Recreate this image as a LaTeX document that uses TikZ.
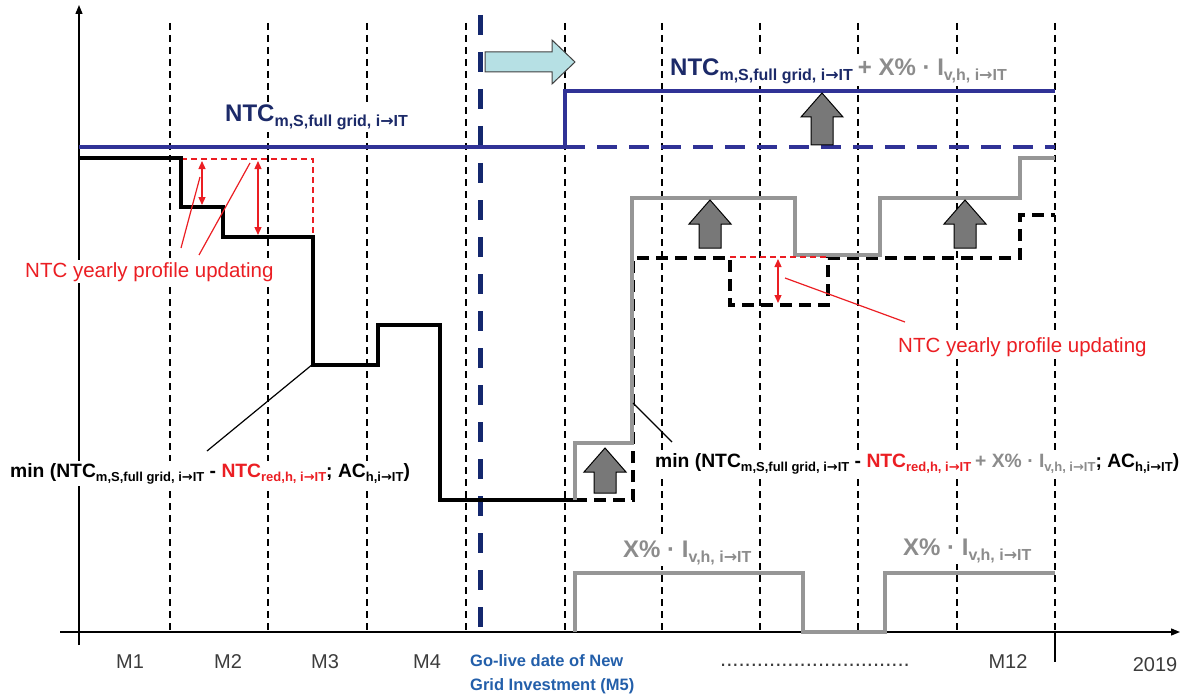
\documentclass[tikz,border=0pt]{standalone}
\usepackage{fontspec}
\setmainfont{Liberation Sans}
\newfontfamily\dv{DejaVu Sans}
\usetikzlibrary{arrows.meta}
\definecolor{navyline}{RGB}{48,50,150}
\definecolor{navytext}{RGB}{28,42,105}
\definecolor{golive}{RGB}{20,40,110}
\definecolor{gtext}{RGB}{140,140,140}
\definecolor{gline}{RGB}{150,150,150}
\definecolor{garrow}{RGB}{120,120,120}
\definecolor{redc}{RGB}{235,30,35}
\definecolor{lblue}{RGB}{182,224,228}
\definecolor{blueT}{RGB}{35,95,170}
\definecolor{axlab}{RGB}{60,60,60}
\newcommand\ar{{\dv →}}
\newcommand\sbx[3]{\raisebox{-#1pt}{\fontsize{#2}{#2}\selectfont #3}}
\newcommand\uparrw[3]{\draw[garr] (#1,#2) -- (#1+21,#2+24) -- (#1+11,#2+24) -- (#1+11,#3) -- (#1-11,#3) -- (#1-11,#2+24) -- (#1-21,#2+24) -- cycle;}
\begin{document}
\begin{tikzpicture}[x=1pt,y=-1pt,
  vgrid/.style={line width=1.1pt, dash pattern=on 7pt off 5pt},
  axis/.style={line width=1.3pt,-{Triangle[length=9pt,width=7pt]}},
  bline/.style={navyline,line width=4pt},
  kline/.style={black,line width=4pt},
  kdash/.style={black,line width=4pt,dash pattern=on 12pt off 7pt},
  gcurve/.style={gline,line width=4pt},
  rdash/.style={redc,line width=1.6pt,dash pattern=on 6pt off 4pt},
  rarr/.style={redc,line width=1.3pt,{Triangle[length=8pt,width=7pt]}-{Triangle[length=8pt,width=7pt]}},
  rlead/.style={redc,line width=1.2pt},
  klead/.style={black,line width=1.2pt},
  garr/.style={fill=garrow,draw=black,line width=1pt,line join=miter},
  wbg/.style={fill=white,inner xsep=0pt,inner ysep=2pt,anchor=base west},
  rlab/.style={wbg,text=redc,font=\fontsize{20.5}{22}\selectfont},
  mlab/.style={text=axlab,font=\fontsize{20}{22}\selectfont,anchor=base,inner sep=0pt},
  flab/.style={wbg,text=black,font=\fontsize{19.3}{22}\selectfont\bfseries},
  tlab/.style={wbg,text=navytext,font=\fontsize{24}{26}\selectfont\bfseries},
  xlab/.style={wbg,text=gtext,font=\fontsize{24}{26}\selectfont\bfseries}]
\useasboundingbox (0,0) rectangle (1186,698);
% grid
\foreach \gx in {170,268,367,466,565,662,760,858,957,1055}
  \draw[vgrid] (\gx,23) -- (\gx,632);
% axes
\draw[axis] (79,645) -- (79,5);
\draw[axis] (60,632) -- (1180,632);
\draw[line width=1.3pt] (1055,632) -- (1055,662);
% go-live dashed
\draw[golive,line width=5pt,dash pattern=on 20pt off 17pt] (480,15) -- (480,632);
% light blue arrow
\draw[fill=lblue,draw=black!75,line width=1pt] (485,52) -- (552,52) -- (552,40) -- (575,62) -- (552,84) -- (552,72) -- (485,72) -- cycle;
% blue lines
\draw[bline] (79,147) -- (565,147);
\draw[bline,dash pattern=on 20pt off 12pt] (565,147) -- (1055,147);
\draw[bline] (565,147) -- (565,91) -- (1055,91);
% X% curve
\draw[gcurve] (575,632) -- (575,573) -- (803,573) -- (803,632) -- (885,632) -- (885,573) -- (1055,573);
% red dashed left
\draw[rdash] (181,159) -- (313,159) -- (313,237);
% black curve
\draw[kline,line join=miter] (79,158) -- (181,158) -- (181,207) -- (223,207) -- (223,237) -- (313,237) -- (313,365) -- (378,365) -- (378,325) -- (440,325) -- (440,500) -- (575,500);
% black dashed right
\draw[kdash] (575,500) -- (633,500) -- (633,258) -- (730,258) -- (730,305) -- (828,305) -- (828,258) -- (1020,258) -- (1020,215) -- (1055,215);
% gray curve
\draw[gcurve] (575,500) -- (575,443) -- (632,443) -- (632,198) -- (795,198) -- (795,255) -- (880,255) -- (880,198) -- (1020,198) -- (1020,158) -- (1055,158);
% red right dashed
\draw[rdash] (730,257) -- (828,257);
% red arrows
\draw[rarr] (202,161) -- (202,205);
\draw[rarr] (258,161) -- (258,235);
\draw[rarr] (778,259) -- (778,303);
% red leaders
\coordinate (l1a) at (200,177); \coordinate (l1b) at (181,248);
\coordinate (l2a) at (250,163); \coordinate (l2b) at (199,255);
\coordinate (l3a) at (785,278); \coordinate (l3b) at (905,322);
\draw[rlead] (l1a) -- (l1b);
\draw[rlead] (l2a) -- (l2b);
\draw[rlead] (l3a) -- (l3b);
% black leaders
\coordinate (k1a) at (313,364); \coordinate (k1b) at (207,451);
\coordinate (k2a) at (633,403); \coordinate (k2b) at (672,442);
\draw[klead] (k1a) -- (k1b);
\draw[klead] (k2a) -- (k2b);
% gray up arrows
\uparrw{822}{93}{145}
\uparrw{710}{200}{248}
\uparrw{965}{200}{248}
\uparrw{605}{448}{493}
% labels
\node[tlab] (tl) at (225,122) {NTC\sbx{5}{16}{m,S,full grid, i\ar IT}};
\node[tlab] (tr) at (670,76) {NTC\sbx{5}{16}{m,S,full grid, i\ar IT}\hspace{5pt}\textcolor{gtext}{+ X\% · I\sbx{5}{16}{v,h, i\ar IT}}};
\node[rlab] (r1) at (25,277) {NTC yearly profile updating};
\node[rlab] (r2) at (898,352) {NTC yearly profile updating};
\node[flab] (f1) at (10,477) {min (NTC\sbx{4}{13}{m,S,full grid, i\ar IT} - \textcolor{redc}{NTC\sbx{4}{13}{red,h, i\ar IT}}; AC\sbx{4}{13}{h,i\ar IT})};
\node[flab] (f2) at (655,467) {min (NTC\sbx{4}{13}{m,S,full grid, i\ar IT} - \textcolor{redc}{NTC\sbx{4}{13}{red,h, i\ar IT}}\hspace{4pt}\textcolor{gtext}{+ X\% · I\sbx{4}{13}{v,h, i\ar IT}}; AC\sbx{4}{13}{h,i\ar IT})};
\node[xlab] (x1) at (623,557) {X\% · I\sbx{5}{16}{v,h, i\ar IT}};
\node[xlab] (x2) at (903,555) {X\% · I\sbx{5}{16}{v,h, i\ar IT}};
% bottom labels
\node[mlab] (m1) at (130,668) {M1};
\node[mlab] (m2) at (228,668) {M2};
\node[mlab] (m3) at (325,668) {M3};
\node[mlab] (m4) at (427,668) {M4};
\node[text=blueT,font=\fontsize{16.5}{24}\selectfont\bfseries,anchor=base west,inner sep=0pt,align=left] (gl) at (470,690) {Go-live date of New\\Grid Investment (M5)};
\node[text=axlab,font=\fontsize{22}{24}\selectfont,anchor=base west,inner sep=0pt] (dots) at (720,666) {...............................};
\node[mlab] (m12) at (1008,668) {M12};
\node[mlab] (yr) at (1155,671) {2019};
\end{tikzpicture}
\end{document}
